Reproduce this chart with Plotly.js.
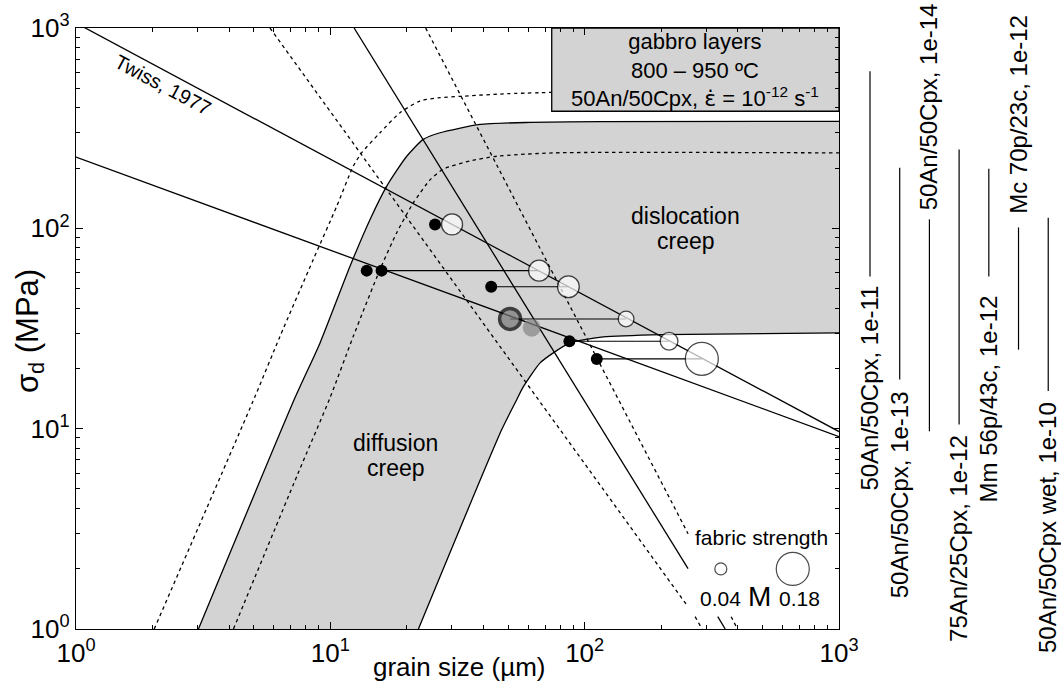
<!DOCTYPE html>
<html>
<head>
<meta charset="utf-8">
<script src="https://cdn.plot.ly/plotly-3.0.1.min.js"></script>
<style>html,body{margin:0;padding:0;background:#fff}#chart{width:1061px;height:685px}</style>
</head>
<body>
<div id="chart"></div>
<script>
// ---------- tick labels ----------
const decadeVals = [1, 10, 100, 1000];
const decadeText = ['10<sup>0</sup>', '10<sup>1</sup>', '10<sup>2</sup>', '10<sup>3</sup>'];

// ---------- piezometer lines (grain size µm, stress MPa) ----------
const twissGrain = [1, 1000];
const twissStress = [1059, 9.67];
const lowerGrain = [1, 1000];
const lowerStress = [227, 9.13];

// ---------- field boundary lines (steep) ----------
const boundSolidGrain = [12.4, 255, null, 333.7, 357];
const boundSolidStress = [1000, 2.0, null, 1.152, 1];
const boundDot1Grain = [5.79, 255, null, 271.8, 289.5];
const boundDot1Stress = [1000, 1.29, null, 1.152, 1];
const boundDot2Grain = [23.7, 255, null, 376.5, 398.8];
const boundDot2Stress = [1000, 2.99, null, 1.152, 1];

// ---------- composite flow-law curves ----------
const curveTopDotGrain = [2.03, 5.06, 6.34, 8.57, 10.6, 12.31, 13.29, 15.68, 18.8, 22.5, 27.0, 32.4, 50, 74];
const curveTopDotStress = [1, 14.5, 28.9, 69.9, 129, 204.5, 238.5, 300, 378, 432, 449, 456, 470, 477];
const curveUpperGrain = [3.03, 7.26, 9.11, 11.95, 14.33, 16.67, 19.97, 23.2, 27.0, 38.8, 61, 115, 1000];
const curveUpperStress = [1, 14.25, 26.8, 64.7, 110.8, 162.5, 229, 278, 300, 330, 338, 341, 342];
const curveMidDotGrain = [4.16, 7.48, 9.97, 12.31, 15.68, 18.24, 21.2, 24.7, 27.7, 35.4, 45.1, 75.3, 1000];
const curveMidDotStress = [1, 6.02, 14.25, 28.9, 62.3, 95.1, 134, 175, 197, 217, 229, 238, 238];
const curveLowerGrain = [22.2, 47.2, 54.1, 57.4, 66.8, 75.3, 87.6, 118.4, 203.9, 1000];
const curveLowerStress = [1, 9.9, 13.98, 16.2, 21.3, 23.9, 26.8, 28.7, 29.5, 30.1];

// ---------- samples ----------
const blackGrain = [25.8, 13.9, 15.9, 42.9, 87.1, 111.6];
const blackStress = [104.6, 61.5, 61.5, 51.1, 27.3, 22.3];
const whiteGrain = [30.1, 66.2, 86.3, 145.5, 214.7, 288.8];
const whiteStress = [104.6, 61.5, 51.1, 35.3, 27.3, 22.3];
const whiteM = [0.10, 0.10, 0.105, 0.065, 0.078, 0.18];
const greyRingGrain = [50.9];
const greyRingStress = [35.3];
const greyRingM = [0.10];
const greyGrain = [61.9];
const greyStress = [31.9];
const greyM = [0.08];
// connectors between paired grain sizes of one sample
const linkFromGrain = [15.9, 42.9, 50.9, 87.1, 111.6];
const linkToGrain = [66.2, 86.3, 145.5, 214.7, 288.8];
const linkStress = [61.5, 51.1, 35.3, 27.3, 22.3];

// ---------- fabric-strength legend ----------
const legendGrain = [343, 658];
const legendStress = [1.995, 1.995];
const legendM = [0.04, 0.18];

// ---------- stress ranges (right side) ----------
const rangeLabels = ['50An/50Cpx, 1e-11', '50An/50Cpx, 1e-13', '50An/50Cpx, 1e-14', '75An/25Cpx, 1e-12',
                     'Mm 56p/43c, 1e-12', 'Mc 70p/23c, 1e-12', '50An/50Cpx wet, 1e-10'];
const rangeHigh = [607.8, 200.8, 110.8, 247.8, 198.5, 101, 113];
const rangeLow = [57.5, 17.6, 9.70, 10.5, 57.5, 24.8, 15.4];
const rangeLabelLogY = [1.200, 0.671, 2.606, 0.450, 1.150, 2.569, 0.505];

// ---------- helpers ----------
const FONT = 'Liberation Sans, Arial, Helvetica, sans-serif';
const fabricSize = M => 12 + (M - 0.04) * 150;
const minorVals = [];
[1, 10, 100].forEach(d => { for (let k = 2; k <= 9; k++) minorVals.push(d * k); });

const solid = {color: '#000', width: 1.3};
const dotted = {color: '#000', width: 1.3, dash: '3.5px,3.5px'};

const traces = [];
traces.push({x: curveUpperGrain.concat(curveLowerGrain.slice().reverse()),
             y: curveUpperStress.concat(curveLowerStress.slice().reverse()),
             mode: 'lines', fill: 'toself', fillcolor: '#d3d3d3', line: {width: 0}});
traces.push({x: curveUpperGrain, y: curveUpperStress, mode: 'lines', line: Object.assign({shape: 'spline', smoothing: 0.6}, solid)});
traces.push({x: curveLowerGrain, y: curveLowerStress, mode: 'lines', line: Object.assign({shape: 'spline', smoothing: 0.6}, solid)});
traces.push({x: curveTopDotGrain, y: curveTopDotStress, mode: 'lines', line: Object.assign({shape: 'spline', smoothing: 0.6}, dotted)});
traces.push({x: curveMidDotGrain, y: curveMidDotStress, mode: 'lines', line: Object.assign({shape: 'spline', smoothing: 0.6}, dotted)});
traces.push({x: boundSolidGrain, y: boundSolidStress, mode: 'lines', line: solid});
traces.push({x: boundDot1Grain, y: boundDot1Stress, mode: 'lines', line: dotted});
traces.push({x: boundDot2Grain, y: boundDot2Stress, mode: 'lines', line: dotted});
traces.push({x: twissGrain, y: twissStress, mode: 'lines', line: solid});
traces.push({x: lowerGrain, y: lowerStress, mode: 'lines', line: solid});
const lx = [], ly = [];
linkFromGrain.forEach((g, i) => { lx.push(g, linkToGrain[i], null); ly.push(linkStress[i], linkStress[i], null); });
traces.push({x: lx, y: ly, mode: 'lines', line: {color: '#000', width: 1.1}});
traces.push({x: blackGrain, y: blackStress, mode: 'markers', marker: {size: 12, color: '#000', line: {width: 0}}});
traces.push({x: greyRingGrain, y: greyRingStress, mode: 'markers',
             marker: {size: greyRingM.map(fabricSize), color: '#787878', line: {color: '#000', width: 3.5}}});
traces.push({x: greyGrain, y: greyStress, mode: 'markers',
             marker: {size: greyM.map(fabricSize), color: '#858585', line: {width: 0}}});
traces.push({x: whiteGrain, y: whiteStress, mode: 'markers',
             marker: {size: whiteM.map(fabricSize), color: '#fff', line: {color: '#000', width: 1.3}}});
traces.push({x: legendGrain, y: legendStress, mode: 'markers',
             marker: {size: legendM.map(fabricSize), color: '#fff', line: {color: '#000', width: 1.2}}});
const rx = [], ry = [];
rangeHigh.forEach((h, i) => { rx.push(i, i, null); ry.push(h, rangeLow[i], null); });
traces.push({x: rx, y: ry, xaxis: 'x2', yaxis: 'y2', mode: 'lines', line: {color: '#000', width: 1.2}});

traces.forEach(t => { t.showlegend = false; t.hoverinfo = 'skip'; });

const ann = [];
const txt = (text, x, y, size, extra) => Object.assign({text: text, x: x, y: y, xref: 'x', yref: 'y',
  showarrow: false, xanchor: 'center', yanchor: 'middle', font: {family: FONT, size: size, color: '#000'}}, extra || {});
ann.push(txt('gabbro layers<br>800 – 950 ºC<br>50An/50Cpx, <span style="font-family:DejaVu Sans">ε̇</span> = 10<sup>-12</sup> s<sup>-1</sup>',
             2.434, 2.790, 22));
ann.push(txt('dislocation', 2.398, 2.061, 23));
ann.push(txt('creep', 2.398, 1.935, 23));
ann.push(txt('diffusion', 1.257, 0.929, 23));
ann.push(txt('creep', 1.257, 0.806, 23));
ann.push(txt('Twiss, 1977', 0.342, 2.714, 20, {textangle: 28}));
ann.push(txt('fabric strength', 2.696, 0.455, 21));
ann.push(txt('0.04', 2.536, 0.150, 21));
ann.push(txt('M', 2.687, 0.161, 28));
ann.push(txt('0.18', 2.843, 0.150, 21));
rangeLabels.forEach((l, i) => ann.push(txt(l, i, rangeLabelLogY[i], 24, {xref: 'x2', yref: 'y2', textangle: -90})));
ann.push({text: 'grain size (µm)', xref: 'paper', yref: 'paper', x: 0.3888, y: -0.0632, showarrow: false,
          xanchor: 'center', yanchor: 'middle', font: {family: FONT, size: 26, color: '#000'}});
ann.push({text: 'σ<sub>d</sub> (MPa)', xref: 'paper', yref: 'paper', x: -0.0467, y: 0.4958, showarrow: false,
          textangle: -90, xanchor: 'center', yanchor: 'middle', font: {family: FONT, size: 31, color: '#000'}});

const axisCommon = {
  type: 'log', range: [0, 3], showgrid: false, zeroline: false, showline: true, linecolor: '#000', linewidth: 1.3,
  mirror: 'ticks', ticks: 'inside', ticklen: 7, tickwidth: 1, tickcolor: '#000',
  tickmode: 'array', tickvals: decadeVals, ticktext: decadeText,
  tickfont: {family: FONT, size: 26, color: '#000'},
  minor: {ticks: 'inside', ticklen: 4, tickwidth: 1, tickcolor: '#000', tickmode: 'array', tickvals: minorVals, showgrid: false}
};

const layout = {
  width: 1061, height: 685,
  margin: {l: 76, r: 0, t: 28, b: 56},
  paper_bgcolor: '#fff', plot_bgcolor: '#fff',
  xaxis: Object.assign({domain: [0, 763 / 985]}, axisCommon),
  yaxis: Object.assign({domain: [0, 1]}, axisCommon),
  xaxis2: {domain: [764 / 985, 1], range: [-1.01, 6.43], visible: false, anchor: 'y2'},
  yaxis2: {domain: [0, 1], type: 'log', range: [0, 3], visible: false, anchor: 'x2'},
  shapes: [{type: 'rect', xref: 'x domain', yref: 'y domain', x0: 0.6235, x1: 1, y0: 0.8615, y1: 1,
            fillcolor: '#d3d3d3', line: {color: '#000', width: 1.3}, layer: 'below'}],
  annotations: ann,
  showlegend: false,
  font: {family: FONT}
};

Plotly.newPlot('chart', traces, layout, {staticPlot: true, displayModeBar: false});
</script>
</body>
</html>
